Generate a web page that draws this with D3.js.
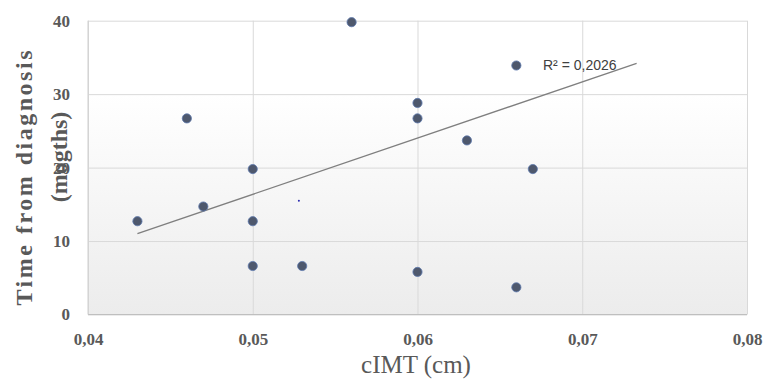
<!DOCTYPE html>
<html>
<head>
<meta charset="utf-8">
<script src="https://cdn.jsdelivr.net/npm/d3@7"></script>
<style>
	body { margin: 0; background: #fff; }
	svg { display: block; }
</style>
</head>
<body>
<div id="chart"></div>
<script>
// data
const cimt = [ 0.043, 0.046, 0.047, 0.05, 0.05, 0.05, 0.053, 0.056, 0.06, 0.06, 0.06, 0.063, 0.066, 0.066, 0.067 ];
const months = [ 12.7, 26.7, 14.7, 19.8, 12.7, 6.6, 6.6, 39.8, 28.8, 26.7, 5.8, 23.7, 33.9, 3.7, 19.8 ];
const trendX = [ 0.043, 0.0733 ];
const trendY = [ 11.0, 34.2 ];
const strayX = [ 0.0528 ];
const strayY = [ 15.5 ];
const xTicks = [ 0.04, 0.05, 0.06, 0.07, 0.08 ];
const yTicks = [ 0, 10, 20, 30, 40 ];
const r2Label = 'R² = 0,2026';

const dimensions = {
	width  : 776,
	height : 381,
	margin : {
		top    : 20.7,
		right  : 29,
		bottom : 66.5,
		left   : 88
	}
};
dimensions.boundedWidth = dimensions.width - dimensions.margin.left - dimensions.margin.right;
dimensions.boundedHeight = dimensions.height - dimensions.margin.top - dimensions.margin.bottom;

const svg = d3
	.select('#chart')
	.append('svg')
	.attr('width', dimensions.width)
	.attr('height', dimensions.height);

const serif = "'Liberation Serif', 'DejaVu Serif', serif";

const grad = svg.append('defs').append('linearGradient').attr('id', 'plot-bg').attr('x1', 0).attr('y1', 0).attr('x2', 0).attr('y2', 1);
grad.append('stop').attr('offset', '0%').attr('stop-color', '#ffffff');
grad.append('stop').attr('offset', '25%').attr('stop-color', '#ffffff');
grad.append('stop').attr('offset', '100%').attr('stop-color', '#ececec');

const x = d3.scaleLinear().domain([ 0.04, 0.08 ]).range([ dimensions.margin.left, dimensions.margin.left + dimensions.boundedWidth ]);
const y = d3.scaleLinear().domain([ 0, 40 ]).range([ dimensions.margin.top + dimensions.boundedHeight, dimensions.margin.top ]);

svg
	.append('rect')
	.attr('x', x(0.04))
	.attr('y', y(40))
	.attr('width', x(0.08) - x(0.04))
	.attr('height', y(0) - y(40))
	.attr('fill', 'url(#plot-bg)');

// gridlines
const fmt = (d) => d3.format('.2f')(d).replace('.', ',');

const yGrid = svg
	.append('g')
	.attr('transform', `translate(${dimensions.margin.left},0)`)
	.call(d3.axisLeft(y).tickValues(yTicks).tickSize(-dimensions.boundedWidth).tickFormat(''));
yGrid.select('.domain').remove();
yGrid.selectAll('line').attr('stroke', '#d9d9d9');

const xGrid = svg
	.append('g')
	.attr('transform', `translate(0,${y(0)})`)
	.call(d3.axisBottom(x).tickValues(xTicks).tickSize(-dimensions.boundedHeight).tickFormat(''));
xGrid.select('.domain').remove();
xGrid.selectAll('line').attr('stroke', '#d9d9d9');

// axis lines
svg.append('line').attr('x1', x(0.04)).attr('x2', x(0.08)).attr('y1', y(0)).attr('y2', y(0)).attr('stroke', '#bfbfbf');
svg.append('line').attr('x1', x(0.04)).attr('x2', x(0.04)).attr('y1', y(0)).attr('y2', y(40)).attr('stroke', '#cfcfcf');

// tick labels
const xAxis = svg
	.append('g')
	.attr('transform', `translate(0,${y(0)})`)
	.call(d3.axisBottom(x).tickValues(xTicks).tickSize(0).tickPadding(18).tickFormat(fmt));
xAxis.select('.domain').remove();
xAxis.selectAll('text').attr('font-family', serif).attr('font-weight', 'bold').attr('font-size', 17).attr('fill', '#595959');

const yAxis = svg
	.append('g')
	.attr('transform', `translate(${dimensions.margin.left},0)`)
	.call(d3.axisLeft(y).tickValues(yTicks).tickSize(0).tickPadding(18));
yAxis.select('.domain').remove();
yAxis.selectAll('text').attr('font-family', serif).attr('font-weight', 'bold').attr('font-size', 17).attr('fill', '#595959');

// axis titles
svg
	.append('text')
	.text('cIMT (cm)')
	.attr('x', 416)
	.attr('y', 373)
	.attr('text-anchor', 'middle')
	.attr('font-family', serif)
	.attr('font-size', 25)
	.attr('fill', '#595959');

const yTitle = svg.append('g').attr('transform', 'translate(0,178) rotate(-90)');
yTitle
	.append('text')
	.text('Time from diagnosis')
	.attr('x', 0)
	.attr('y', 32)
	.attr('text-anchor', 'middle')
	.attr('textLength', 255)
	.attr('lengthAdjust', 'spacing')
	.attr('font-family', serif)
	.attr('font-weight', 'bold')
	.attr('font-size', 24)
	.attr('fill', '#595959');
yTitle
	.append('text')
	.text('(mogths)')
	.attr('x', 21)
	.attr('y', 67)
	.attr('text-anchor', 'middle')
	.attr('font-family', serif)
	.attr('font-weight', 'bold')
	.attr('font-size', 24)
	.attr('fill', '#595959');

// trend line
svg
	.append('path')
	.datum(d3.zip(trendX, trendY))
	.attr('d', d3.line().x((d) => x(d[0])).y((d) => y(d[1])))
	.attr('fill', 'none')
	.attr('stroke', '#7f7f7f')
	.attr('stroke-width', 1.3);

// points
svg
	.selectAll('circle.pt')
	.data(d3.zip(cimt, months))
	.enter()
	.append('circle')
	.attr('class', 'pt')
	.attr('cx', (d) => x(d[0]))
	.attr('cy', (d) => y(d[1]))
	.attr('r', 4.6)
	.attr('fill', '#4e586d')
	.attr('stroke', '#5d79ad')
	.attr('stroke-width', 0.8);

svg
	.selectAll('circle.stray')
	.data(d3.zip(strayX, strayY))
	.enter()
	.append('circle')
	.attr('class', 'stray')
	.attr('cx', (d) => x(d[0]))
	.attr('cy', (d) => y(d[1]))
	.attr('r', 1)
	.attr('fill', '#2a2ab0');

svg
	.append('text')
	.text(r2Label)
	.attr('x', 543)
	.attr('y', 70)
	.attr('font-family', "'Liberation Sans', Arial, sans-serif")
	.attr('font-size', 14)
	.attr('fill', '#404040');
</script>
</body>
</html>
